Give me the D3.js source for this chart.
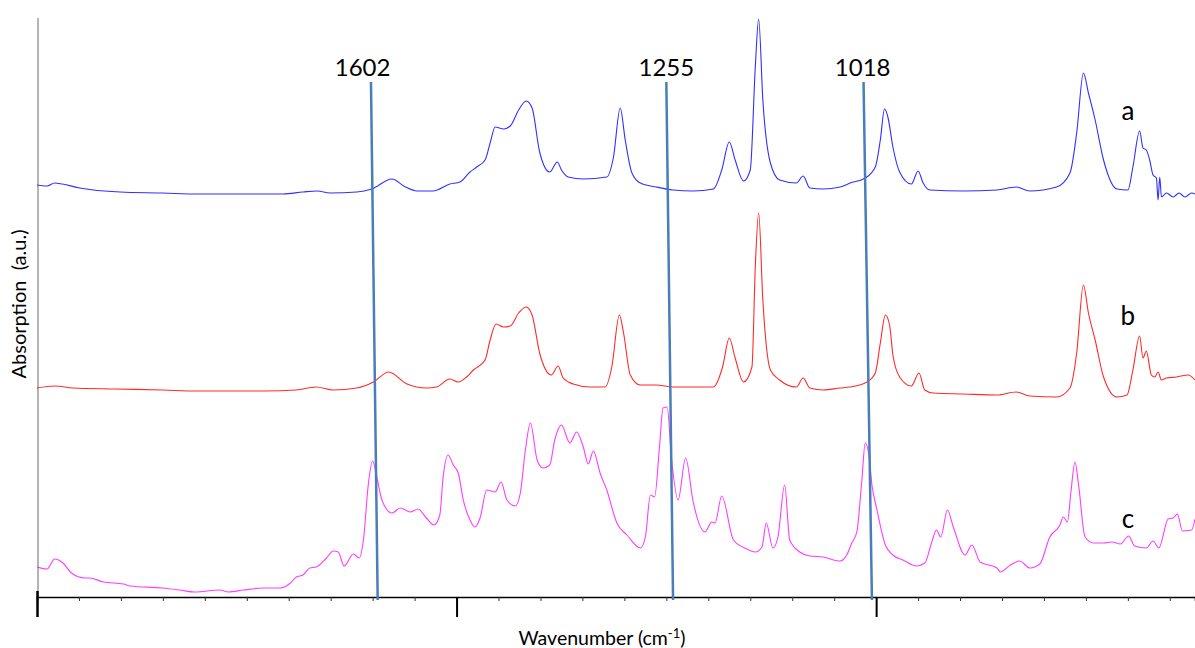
<!DOCTYPE html>
<html>
<head>
<meta charset="utf-8">
<script src="https://cdn.jsdelivr.net/npm/d3@7"></script>
<style>
  html, body { margin: 0; padding: 0; background: #fff; }
  svg { display: block; }
  text { font-family: Lato, "Open Sans", "Liberation Sans", sans-serif; fill: #000; white-space: pre; }
</style>
</head>
<body>
<svg id="chart" width="1195" height="648"></svg>
<script>
// ---------- DATA (wavenumber cm-1, absorbance a.u. incl. stacking offset) ----------
const seriesNames = ["a", "b", "c"];
const seriesColors = ["#3030ff", "#ff2a2a", "#ff3cff"];

const spectrumA = [
  [2000,4.12],[1988,4.11],[1979,4.14],[1970,4.13],[1949,4.09],[1901,4.05],[1850,4.04],[1809,4.03],
  [1750,4.03],[1707,4.03],[1683,4.05],[1666,4.06],[1651,4.04],[1619,4.05],[1601,4.08],[1577,4.18],
  [1561,4.10],[1547,4.06],[1528,4.06],[1508,4.13],[1496,4.15],[1484,4.25],[1476,4.30],[1466,4.37],
  [1460,4.54],[1454,4.70],[1444,4.68],[1436,4.71],[1426,4.87],[1417,4.96],[1410,4.89],[1401,4.45],
  [1389,4.25],[1380,4.35],[1375,4.27],[1367,4.20],[1349,4.18],[1321,4.20],[1313,4.40],[1305,4.89],
  [1299,4.57],[1291,4.24],[1281,4.14],[1262,4.10],[1242,4.07],[1218,4.06],[1194,4.08],[1184,4.27],
  [1175,4.55],[1168,4.37],[1158,4.16],[1150,4.27],[1144,5.30],[1140,5.78],[1135,4.97],[1126,4.34],
  [1115,4.17],[1095,4.14],[1087,4.21],[1079,4.09],[1063,4.08],[1043,4.10],[1031,4.14],[1013,4.19],
  [1001,4.30],[995,4.57],[990,4.88],[986,4.80],[980,4.50],[972,4.25],[958,4.13],[950,4.26],
  [944,4.14],[936,4.07],[896,4.06],[856,4.07],[833,4.10],[817,4.06],[785,4.10],[769,4.24],
  [761,4.64],[753,5.24],[747,5.04],[739,4.77],[729,4.37],[713,4.08],[700,4.07],[694,4.30],
  [686,4.66],[682,4.49],[678,4.47],[674,4.37],[670,4.22],[666,4.19],[664,3.97],[662,4.20],
  [660,4.00],[654,4.04],[646,4.00],[639,4.04],[632,4.00],[624,4.04],[620,4.03]
];

const spectrumB = [
  [2000,2.09],[1979,2.11],[1957,2.09],[1909,2.08],[1850,2.07],[1810,2.06],[1730,2.06],[1691,2.07],
  [1667,2.10],[1647,2.07],[1619,2.09],[1599,2.15],[1581,2.25],[1559,2.13],[1536,2.09],[1524,2.10],
  [1508,2.18],[1498,2.15],[1488,2.20],[1480,2.27],[1466,2.37],[1460,2.57],[1453,2.73],[1444,2.70],
  [1436,2.71],[1426,2.84],[1417,2.90],[1410,2.82],[1401,2.44],[1387,2.22],[1379,2.31],[1373,2.19],
  [1361,2.13],[1341,2.10],[1323,2.10],[1315,2.30],[1306,2.82],[1301,2.64],[1293,2.22],[1281,2.12],
  [1262,2.12],[1242,2.10],[1194,2.10],[1183,2.30],[1175,2.59],[1168,2.39],[1158,2.15],[1148,2.30],
  [1144,3.30],[1140,3.84],[1135,2.97],[1126,2.27],[1115,2.17],[1095,2.10],[1087,2.19],[1079,2.09],
  [1063,2.07],[1043,2.09],[1031,2.10],[1011,2.15],[1001,2.24],[995,2.54],[989,2.82],[984,2.72],
  [980,2.42],[972,2.20],[958,2.11],[949,2.24],[942,2.07],[932,2.04],[896,2.03],[856,2.02],
  [833,2.05],[817,2.01],[785,2.00],[769,2.09],[761,2.44],[753,3.12],[747,2.84],[739,2.57],
  [729,2.20],[713,2.00],[701,2.02],[694,2.27],[686,2.61],[682,2.39],[678,2.46],[672,2.22],
  [668,2.20],[664,2.25],[660,2.17],[654,2.19],[642,2.20],[628,2.22],[620,2.17]
];

const spectrumC = [
  [2000,0.30],[1988,0.28],[1979,0.38],[1969,0.34],[1959,0.24],[1943,0.19],[1937,0.19],[1921,0.15],
  [1897,0.13],[1889,0.11],[1850,0.09],[1830,0.07],[1812,0.05],[1782,0.07],[1772,0.05],[1754,0.07],
  [1730,0.09],[1710,0.09],[1698,0.14],[1691,0.20],[1683,0.22],[1675,0.29],[1667,0.30],[1655,0.39],
  [1647,0.46],[1641,0.45],[1634,0.31],[1623,0.43],[1616,0.39],[1611,0.57],[1605,1.14],[1600,1.36],
  [1595,1.20],[1589,0.97],[1577,0.84],[1567,0.89],[1555,0.85],[1546,0.88],[1536,0.79],[1527,0.72],
  [1520,0.82],[1516,1.20],[1510,1.42],[1504,1.32],[1498,1.24],[1492,0.97],[1484,0.77],[1478,0.70],
  [1472,0.79],[1464,1.07],[1454,1.05],[1447,1.15],[1440,0.97],[1430,0.91],[1424,1.04],[1418,1.47],
  [1412,1.74],[1404,1.37],[1397,1.29],[1389,1.32],[1383,1.57],[1375,1.72],[1365,1.54],[1357,1.65],
  [1349,1.50],[1343,1.33],[1337,1.46],[1329,1.24],[1321,1.07],[1309,0.74],[1297,0.62],[1281,0.49],
  [1275,0.60],[1269,1.02],[1264,1.00],[1258,1.52],[1254,1.89],[1249,1.90],[1244,1.40],[1236,0.97],
  [1227,1.39],[1218,0.95],[1204,0.65],[1196,0.75],[1192,0.74],[1184,1.01],[1170,0.57],[1154,0.48],
  [1144,0.45],[1136,0.50],[1131,0.74],[1123,0.49],[1117,0.60],[1109,1.12],[1103,0.57],[1091,0.45],
  [1079,0.41],[1063,0.40],[1043,0.36],[1035,0.42],[1029,0.54],[1023,0.65],[1017,1.17],[1013,1.54],
  [1009,1.44],[1005,1.12],[999,0.87],[989,0.52],[980,0.42],[968,0.37],[952,0.31],[942,0.34],
  [934,0.54],[928,0.67],[923,0.60],[915,0.87],[908,0.70],[894,0.42],[886,0.52],[876,0.35],
  [856,0.29],[852,0.25],[840,0.32],[829,0.36],[817,0.29],[805,0.33],[793,0.60],[781,0.72],
  [777,0.80],[772,0.75],[768,1.04],[763,1.35],[759,1.14],[751,0.60],[741,0.54],[729,0.54],
  [719,0.55],[709,0.53],[699,0.61],[692,0.51],[678,0.49],[670,0.56],[663,0.49],[652,0.78],
  [646,0.79],[641,0.83],[635,0.66],[624,0.67],[620,0.78]
];

// band markers (slanted guide lines): label, wavenumber at top, wavenumber at bottom, label position
const markerLabels = ["1602", "1255", "1018"];
const markerTopWn = [1602, 1250, 1015];
const markerBottomWn = [1594, 1242, 1005];
const markerLabelWn = [1612, 1250, 1016];
const markerTopLevel = 5.15;
const markerBottomLevel = -0.03;

// trace labels
const traceLabelWn = 700;
const traceLabelLevels = [4.77, 2.72, 0.69];

// axis
const xDomain = [2000, 620];
const yDomain = [0, 5.79];
const majorTicks = [2000, 1500, 1000];
const minorStep = 50;
const xTitle = "Wavenumber (cm";
const xTitleSup = "-1";
const yTitle = "Absorption  (a.u.)";

// ---------- CHART ----------
const svg = d3.select("#chart");
const margin = { left: 37, right: 0, top: 18, bottom: 51 };
const W = 1195, H = 648;

const x = d3.scaleLinear().domain(xDomain).range([margin.left, W - margin.right]);
const y = d3.scaleLinear().domain(yDomain).range([H - margin.bottom, margin.top]);

const line = d3.line().x(d => x(d[0])).y(d => y(d[1])).curve(d3.curveMonotoneX);

const spectra = [spectrumA, spectrumB, spectrumC];

const g = svg.append("g");

// traces
g.selectAll("path.trace").data(spectra).join("path")
  .attr("class", "trace")
  .attr("d", line)
  .attr("fill", "none")
  .attr("stroke", (d, i) => seriesColors[i])
  .attr("stroke-width", 1.1)
  .attr("stroke-linejoin", "round");

// y axis line (no ticks)
g.append("line")
  .attr("x1", x(xDomain[0]) + 1).attr("x2", x(xDomain[0]) + 1)
  .attr("y1", y(yDomain[1])).attr("y2", y(0))
  .attr("stroke", "#6b6b6b").attr("stroke-width", 1);

// x axis: minor ticks
const minorTicks = d3.range(xDomain[0], xDomain[1], -minorStep);
const xAxisMinor = d3.axisBottom(x).tickValues(minorTicks).tickSize(4).tickFormat("");
const axG = g.append("g").attr("transform", `translate(0,${y(0)})`).call(xAxisMinor);
axG.select(".domain").attr("stroke", "#000").attr("stroke-width", 1.6);
axG.selectAll(".tick line").attr("stroke", "#333").attr("stroke-width", 1);

// major ticks
const xAxisMajor = d3.axisBottom(x).tickValues(majorTicks).tickSize(20).tickFormat("");
const axM = g.append("g").attr("transform", `translate(0,${y(0)})`).call(xAxisMajor);
axM.select(".domain").remove();
axM.selectAll(".tick line").attr("stroke", "#000").attr("stroke-width", 2);
axM.selectAll(".tick").filter(d => d === xDomain[0]).select("line")
  .attr("y1", -6).attr("stroke-width", 2.5);

// marker lines
g.selectAll("line.marker").data(markerLabels).join("line")
  .attr("class", "marker")
  .attr("x1", (d, i) => x(markerTopWn[i]))
  .attr("y1", y(markerTopLevel))
  .attr("x2", (d, i) => x(markerBottomWn[i]))
  .attr("y2", y(markerBottomLevel))
  .attr("stroke", "#4a7ebb")
  .attr("stroke-width", 2.5);

g.selectAll("text.marker").data(markerLabels).join("text")
  .attr("class", "marker")
  .attr("x", (d, i) => x(markerLabelWn[i]))
  .attr("y", y(markerTopLevel) - 6)
  .attr("text-anchor", "middle")
  .attr("font-size", 24)
  .text(d => d);

// trace labels
g.selectAll("text.tlabel").data(seriesNames).join("text")
  .attr("class", "tlabel")
  .attr("x", x(traceLabelWn))
  .attr("y", (d, i) => y(traceLabelLevels[i]))
  .attr("text-anchor", "middle")
  .attr("font-size", 26)
  .text(d => d);

// axis titles
const xt = g.append("text")
  .attr("x", 602).attr("y", 645)
  .attr("text-anchor", "middle")
  .attr("font-size", 19.5);
xt.append("tspan").text(xTitle);
xt.append("tspan").attr("dy", -7).attr("font-size", 13).text(xTitleSup);
xt.append("tspan").attr("dy", 7).text(")");

g.append("text")
  .attr("transform", `translate(26,304) rotate(-90)`)
  .attr("text-anchor", "middle")
  .attr("font-size", 20)
  .text(yTitle);
</script>
</body>
</html>
